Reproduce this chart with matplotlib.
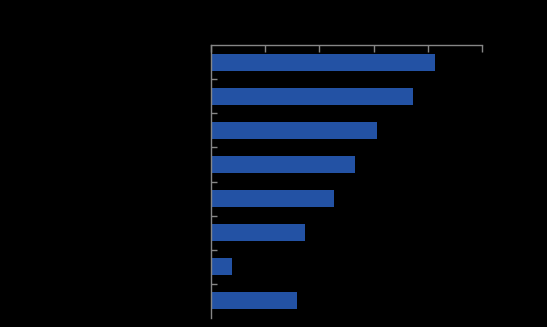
import matplotlib
matplotlib.use("Agg")
import matplotlib.pyplot as plt

# bar values (axis 0-100, top to bottom)
values = [82.7, 74.4, 61.3, 53.1, 45.4, 34.7, 7.7, 31.7]
x_ticks = [0, 20, 40, 60, 80, 100]

fig = plt.figure(figsize=(5.47, 3.27), dpi=100, facecolor="black")
ax = fig.add_axes([211 / 547, 1 - 318 / 327, 271 / 547, 273 / 327])
ax.set_facecolor("black")

pos = list(range(len(values)))
ax.barh(pos, values, height=0.5, color="#2352a4")

ax.set_xlim(0, 100)
ax.set_ylim(len(values) - 0.5, -0.5)

gray = "#868686"
for s in ["right", "bottom"]:
    ax.spines[s].set_visible(False)
for s in ["left", "top"]:
    ax.spines[s].set_color(gray)
    ax.spines[s].set_linewidth(1)

ax.xaxis.tick_top()
ax.set_xticks(x_ticks)
ax.set_xticklabels([])
ax.tick_params(axis="x", direction="in", length=5, color=gray, width=1)

ax.set_yticks([p + 0.5 for p in pos[:-1]])
ax.set_yticklabels([])
ax.tick_params(axis="y", direction="in", length=4, color=gray, width=1)

fig.savefig("out.png", dpi=100, facecolor="black")
